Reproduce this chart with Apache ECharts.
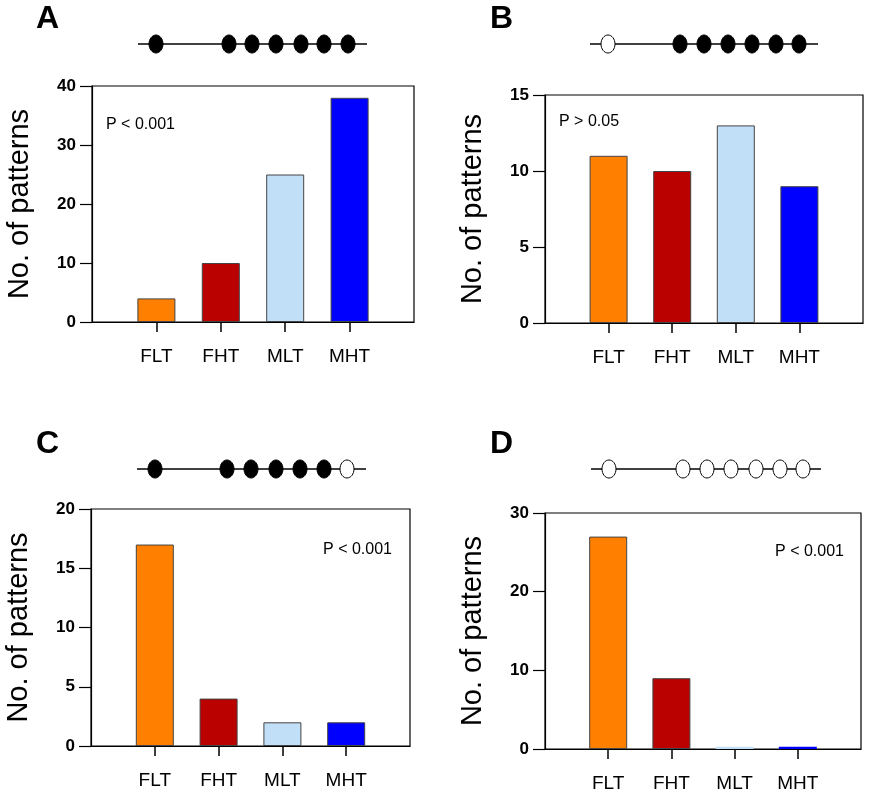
<!DOCTYPE html>
<html>
<head>
<meta charset="utf-8">
<script src="https://cdn.jsdelivr.net/npm/echarts@6/dist/echarts.min.js"></script>
<style>html,body{margin:0;padding:0;background:#fff}#main{width:871px;height:800px}</style>
</head>
<body>
<div id="main"></div>
<script>
var categories = ['FLT', 'FHT', 'MLT', 'MHT'];
var colors = ['#FF8000', '#BB0000', '#C2DFF8', '#0000FF'];
var valuesA = [4, 10, 25, 38];
var valuesB = [11, 10, 13, 9];
var valuesC = [17, 4, 2, 2];
var valuesD = [27, 9, 0.3, 0.3];
var yMax = [40, 15, 20, 30];
var yStep = [10, 5, 5, 10];
var pTexts = ['P < 0.001', 'P > 0.05', 'P < 0.001', 'P < 0.001'];
var letters = ['A', 'B', 'C', 'D'];
// 1 = filled dot, 0 = open dot
var patterns = [
  [1, 1, 1, 1, 1, 1, 1],
  [0, 1, 1, 1, 1, 1, 1],
  [1, 1, 1, 1, 1, 1, 0],
  [0, 0, 0, 0, 0, 0, 0]
];

var grids = [
  {left: 92, top: 86, width: 322, height: 236},
  {left: 545, top: 95, width: 318, height: 228},
  {left: 91, top: 509, width: 319, height: 237},
  {left: 545, top: 513, width: 316, height: 236}
];
var allValues = [valuesA, valuesB, valuesC, valuesD];
var dotRows = [
  {y: 44, x0: 138, x1: 367, xs: [156, 229, 252, 276, 301, 324, 348]},
  {y: 44, x0: 590, x1: 818, xs: [608, 680, 704, 728, 752, 776, 799]},
  {y: 469, x0: 137, x1: 366, xs: [155, 227, 251, 276, 300, 324, 347]},
  {y: 469, x0: 591, x1: 821, xs: [609, 683, 707, 731, 756, 780, 803]}
];
var pPos = [[106, 125, 'left'], [559, 122, 'left'], [392, 550, 'right'], [844, 552, 'right']];
var letterPos = [[36, 3], [490, 3], [36, 428], [490, 428]];

var option = {grid: [], xAxis: [], yAxis: [], series: [], graphic: []};
grids.forEach(function (g, i) {
  option.grid.push(Object.assign({show: true, borderColor: '#000', borderWidth: 1.2, backgroundColor: '#fff'}, g));
  option.xAxis.push({
    type: 'value', gridIndex: i, min: 0, max: 5, splitLine: {show: false},
    axisLine: {lineStyle: {color: '#000', width: 1.2}},
    axisTick: {show: true, length: 10, lineStyle: {color: '#000', width: 1.5}, customValues: [1, 2, 3, 4]},
    axisLabel: {customValues: [1, 2, 3, 4], margin: 25, fontSize: 19, color: '#000', fontFamily: 'Arial, Liberation Sans',
      formatter: function (v) { return categories[v - 1]; }}
  });
  option.yAxis.push({
    type: 'value', gridIndex: i, min: 0, max: yMax[i], interval: yStep[i], splitLine: {show: false},
    name: 'No. of patterns', nameLocation: 'middle', nameGap: 58,
    nameTextStyle: {fontSize: 29, color: '#000', fontFamily: 'Arial, Liberation Sans'},
    axisLine: {lineStyle: {color: '#000', width: 1.2}},
    axisTick: {show: true, length: 12, lineStyle: {color: '#000', width: 1.2}},
    axisLabel: {fontSize: 17, fontWeight: 'bold', color: '#000', margin: 16, fontFamily: 'Arial, Liberation Sans'}
  });
  option.series.push({
    type: 'bar', xAxisIndex: i, yAxisIndex: i, barWidth: 38,
    data: allValues[i].map(function (v, k) {
      var thin = i === 3 && k > 1;
      return {value: [k + 1, v], itemStyle: {color: colors[k], borderColor: thin ? colors[k] : '#444', borderWidth: thin ? 0 : 1}};
    })
  });
  option.graphic.push({type: 'text', left: letterPos[i][0], top: letterPos[i][1],
    style: {text: letters[i], font: 'bold 32px Arial, Liberation Sans', fill: '#000'}});
  option.graphic.push({type: 'text', x: pPos[i][0], y: pPos[i][1],
    style: {text: pTexts[i], font: '16px Arial, Liberation Sans', fill: '#000', align: pPos[i][2], verticalAlign: 'middle'}});
  var r = dotRows[i];
  option.graphic.push({type: 'line', shape: {x1: r.x0, y1: r.y, x2: r.x1, y2: r.y}, style: {stroke: '#000', lineWidth: 1.5}});
  r.xs.forEach(function (x, k) {
    option.graphic.push({type: 'ellipse', shape: {cx: x, cy: r.y, rx: 7, ry: 9},
      style: {fill: patterns[i][k] ? '#000' : '#fff', stroke: '#000', lineWidth: 1}});
  });
});

var chart = echarts.init(document.getElementById('main'));
chart.setOption(option);
</script>
</body>
</html>
